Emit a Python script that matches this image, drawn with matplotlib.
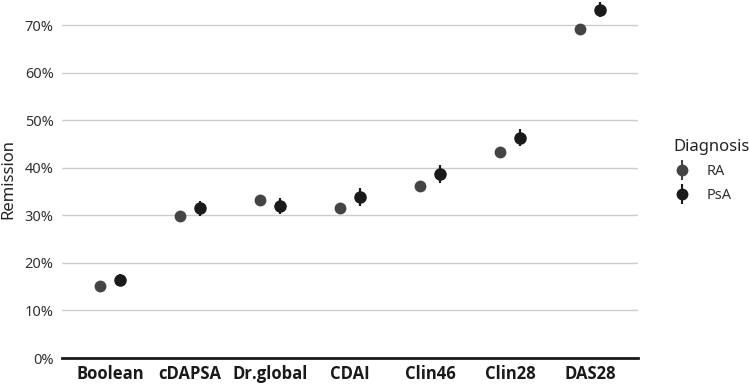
import matplotlib
matplotlib.use("Agg")
import matplotlib.pyplot as plt
from matplotlib.lines import Line2D
from matplotlib.legend_handler import HandlerTuple
import numpy as np

plt.rcParams['font.family'] = ['Noto Sans', 'DejaVu Sans']

categories = ["Boolean", "cDAPSA", "Dr.global", "CDAI", "Clin46", "Clin28", "DAS28"]
ra_values = [15.2, 29.9, 33.2, 31.5, 36.2, 43.3, 69.2]
ra_err = [0.3, 0.3, 0.3, 0.3, 0.3, 0.3, 0.3]
psa_values = [16.5, 31.5, 31.9, 33.8, 38.7, 46.3, 73.3]
psa_err = [1.1, 1.6, 1.7, 1.9, 1.8, 1.8, 1.6]
yticks = [0, 10, 20, 30, 40, 50, 60, 70]

ra_color = "#444444"
psa_color = "#1a1a1a"

fig = plt.figure(figsize=(7.49, 3.86), dpi=100)
ax = fig.add_axes([62/749, 1-358/386, (638-62)/749, 358/386])

x = np.arange(1, len(categories) + 1)
dodge = 0.13
ax.errorbar(x - dodge, ra_values, yerr=ra_err, fmt='o', color=ra_color, ms=7.5,
            elinewidth=1.6, capsize=0, zorder=3)
ax.errorbar(x + dodge, psa_values, yerr=psa_err, fmt='o', color=psa_color, ms=8,
            elinewidth=1.6, capsize=0, zorder=3)

ax.set_xlim(0.4, 7.6)
ax.set_ylim(0, 75.3)
ax.set_xticks(x)
ax.set_xticklabels(categories, fontsize=12, fontweight='bold', color='#1a1a1a',
                   family=['Open Sans', 'DejaVu Sans'])
ax.set_yticks(yticks)
ax.set_yticklabels([f"{v}%" for v in yticks], fontsize=10.5, color='#333333')
ax.tick_params(axis='both', length=0, pad=6)
ax.tick_params(axis='x', pad=5)
ax.set_ylabel("Remission", fontsize=12, color='#222222', labelpad=6)

ax.grid(axis='y', color='#cccccc', linewidth=1)
ax.set_axisbelow(True)
for s in ['top', 'right', 'left']:
    ax.spines[s].set_visible(False)
ax.spines['bottom'].set_color('#1a1a1a')
ax.spines['bottom'].set_linewidth(2)
ax.spines['bottom'].set_zorder(4)

def key(color):
    v = Line2D([], [], marker='|', color=color, ms=14, mew=1.5, linestyle='None')
    d = Line2D([], [], marker='o', color=color, ms=7.5, linestyle='None')
    return (v, d)

leg = fig.legend([key(ra_color), key(psa_color)], ["RA", "PsA"],
                 handler_map={tuple: HandlerTuple(ndivide=1)},
                 title="Diagnosis", loc='upper left', bbox_to_anchor=(660/749, 1-126/386),
                 frameon=False, fontsize=10.5, title_fontsize=12,
                 handlelength=1.2, handletextpad=1.1, labelspacing=0.6, alignment='left')
for t in leg.get_texts():
    t.set_color('#333333')
leg.get_title().set_color('#222222')

fig.savefig("out.png", dpi=100)
